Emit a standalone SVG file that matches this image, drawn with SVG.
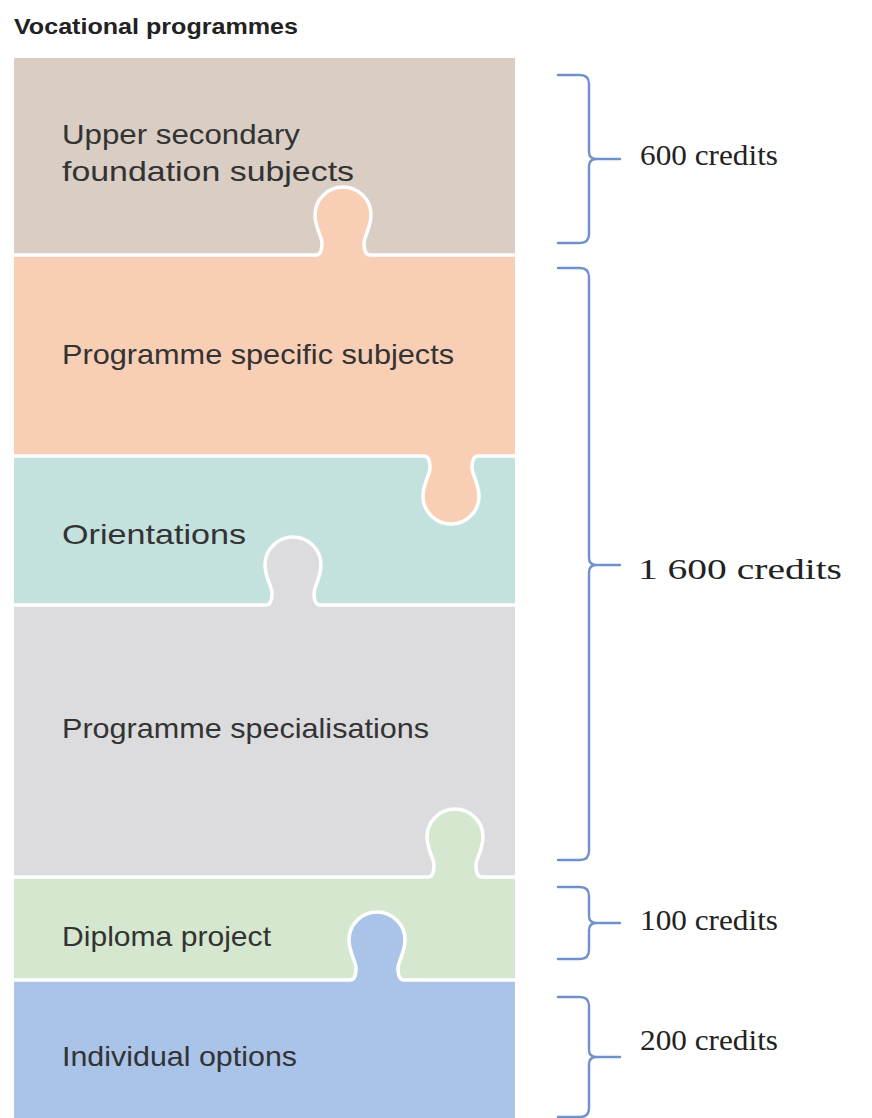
<svg xmlns="http://www.w3.org/2000/svg" width="872" height="1118" viewBox="0 0 872 1118">
<style>
.lbl{font-family:"Liberation Sans",Arial,sans-serif;font-size:28px;fill:#333;}
.cr{font-family:"Liberation Serif","Times New Roman",serif;font-size:29px;fill:#222;}
.title{font-family:"Liberation Sans",Arial,sans-serif;font-size:22px;font-weight:bold;fill:#222;}
.sep{stroke:#fff;stroke-width:3.5;}
.br{fill:none;stroke:#6f92cc;stroke-width:2.4;stroke-linecap:round;stroke-linejoin:round;}
</style>
<rect width="872" height="1118" fill="#fff"/>
<text class="title" x="14" y="34" textLength="284" lengthAdjust="spacingAndGlyphs">Vocational programmes</text>
<g id="upper-secondary">
<rect x="14" y="58" width="501" height="197" fill="#d9cdc4"/>
<text class="lbl" x="62" y="144" textLength="238" lengthAdjust="spacingAndGlyphs">Upper secondary</text>
<text class="lbl" x="62" y="181" textLength="292" lengthAdjust="spacingAndGlyphs">foundation subjects</text>
</g>
<g id="programme-specific">
<rect x="14" y="255" width="501" height="201" fill="#f8cfb5"/>
<path class="sep" fill="#f8cfb5" d="M14 255 H316 Q322 255 322 243 C322 237 315 227 315 215 A28 28 0 0 1 371 215 C371 227 364 237 364 243 Q364 255 370 255 H515"/>
<text class="lbl" x="62" y="364" textLength="392" lengthAdjust="spacingAndGlyphs">Programme specific subjects</text>
</g>
<g id="orientations">
<rect x="14" y="456" width="501" height="149" fill="#c3e2de"/>
<path class="sep" fill="#f8cfb5" d="M14 456 H424 Q430 456 430 468 C430 474 423 484 423 496 A28 28 0 0 0 479 496 C479 484 472 474 472 468 Q472 456 478 456 H515"/>
<text class="lbl" x="62" y="544" textLength="184" lengthAdjust="spacingAndGlyphs">Orientations</text>
</g>
<g id="programme-specialisations">
<rect x="14" y="605" width="501" height="272" fill="#dcdcdf"/>
<path class="sep" fill="#dcdcdf" d="M14 605 H266 Q272 605 272 593 C272 587 265 577 265 565 A28 28 0 0 1 321 565 C321 577 314 587 314 593 Q314 605 320 605 H515"/>
<text class="lbl" x="62" y="738" textLength="367" lengthAdjust="spacingAndGlyphs">Programme specialisations</text>
</g>
<g id="diploma-project">
<rect x="14" y="877" width="501" height="103" fill="#d5e8cf"/>
<path class="sep" fill="#d5e8cf" d="M14 877 H428 Q434 877 434 865 C434 859 427 849 427 837 A28 28 0 0 1 483 837 C483 849 476 859 476 865 Q476 877 482 877 H515"/>
<text class="lbl" x="62" y="946" textLength="209" lengthAdjust="spacingAndGlyphs">Diploma project</text>
</g>
<g id="individual-options">
<rect x="14" y="980" width="501" height="138" fill="#a9c4e8"/>
<path class="sep" fill="#a9c4e8" d="M14 980 H350 Q356 980 356 968 C356 962 349 952 349 940 A28 28 0 0 1 405 940 C405 952 398 962 398 968 Q398 980 404 980 H515"/>
<text class="lbl" x="62" y="1066" textLength="235" lengthAdjust="spacingAndGlyphs">Individual options</text>
</g>
<g id="connectors">
<path class="br" d="M558 75 H580 Q589 75 589 84 V152 Q589 159 597 159 H620 M597 159 Q589 159 589 166 V234 Q589 243 580 243 H558"/>
<path class="br" d="M558 268 H580 Q589 268 589 277 V558 Q589 565 597 565 H620 M597 565 Q589 565 589 572 V851 Q589 860 580 860 H558"/>
<path class="br" d="M558 887 H580 Q589 887 589 896 V916 Q589 923 597 923 H620 M597 923 Q589 923 589 930 V950 Q589 959 580 959 H558"/>
<path class="br" d="M558 997 H580 Q589 997 589 1006 V1050 Q589 1057 597 1057 H620 M597 1057 Q589 1057 589 1064 V1108 Q589 1117 580 1117 H558"/>
</g>
<g id="credits">
<text class="cr" x="640" y="165" textLength="138" lengthAdjust="spacingAndGlyphs">600 credits</text>
<text class="cr" x="638" y="579" textLength="204" lengthAdjust="spacingAndGlyphs">1 600 credits</text>
<text class="cr" x="640" y="930" textLength="138" lengthAdjust="spacingAndGlyphs">100 credits</text>
<text class="cr" x="640" y="1050" textLength="138" lengthAdjust="spacingAndGlyphs">200 credits</text>
</g>
</svg>
